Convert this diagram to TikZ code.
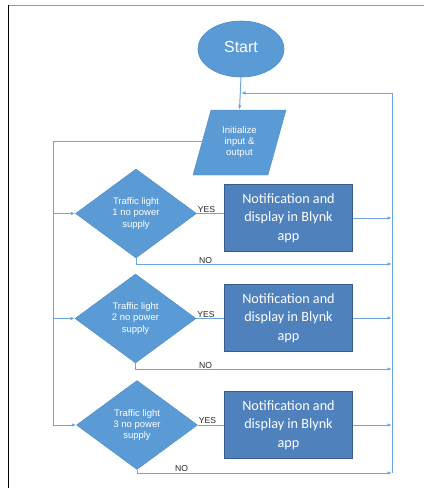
\documentclass[tikz,border=0pt]{standalone}
\usepackage{fontspec}
\setmainfont{Liberation Sans}
\newfontfamily\boxfont{Carlito}
\usetikzlibrary{shapes.geometric,arrows.meta}

\definecolor{shapeblue}{HTML}{5B9BD5}
\definecolor{shapeedge}{HTML}{4A8AC8}
\definecolor{boxblue}{HTML}{4F81BD}
\definecolor{boxedge}{HTML}{385D8A}
\definecolor{linkblue}{HTML}{6FA6DA}

\tikzset{
  startnode/.style={ellipse, fill=shapeblue, draw=shapeedge, line width=0.6pt,
    minimum width=86pt, minimum height=56pt, inner sep=0pt, text=white,
    font=\fontsize{16}{18}\selectfont},
  ioshape/.style={fill=shapeblue, draw=shapeedge, line width=0.4pt},
  iotext/.style={rectangle, minimum width=93pt, minimum height=65pt,
    inner sep=0pt, text=white, align=center,
    font=\fontsize{9.6}{11}\selectfont},
  decision/.style={diamond, fill=shapeblue, draw=shapeedge, line width=0.4pt,
    shape aspect=1.35, minimum width=121pt, minimum height=89pt, inner sep=0pt,
    text=white, align=center, font=\fontsize{9.5}{11.3}\selectfont},
  actionbox/.style={rectangle, fill=boxblue, draw=boxedge, line width=1.3pt,
    minimum width=128pt, minimum height=67pt, inner sep=0pt, text=white,
    align=center, font=\boxfont\fontsize{14.2}{18.5}\selectfont},
  link/.style={draw=linkblue, line width=1pt},
  linkarrow/.style={link, -{Latex[length=4.5pt,width=3.5pt]}},
  answer/.style={inner sep=0pt, text=black!85, font=\fontsize{8.6}{10}\selectfont}
}

\begin{document}
\begin{tikzpicture}[x=1pt, y=-1pt]
  \useasboundingbox (0,0) rectangle (424,488);

  % page frame
  \draw[black!40, line width=0.9pt] (8,5) -- (424,5);
  \draw[black, line width=1pt] (8,5) -- (8,488);

  % start
  \node[startnode] (start) at (241,49) {\raisebox{4pt}{Start}};

  % input/output parallelogram, text node on top
  \coordinate (ioc) at (239.5,142.5);
  \draw[ioshape] ([shift={(-28.5,-32.5)}]ioc) -- ([shift={(46.5,-32.5)}]ioc)
    -- ([shift={(28.5,32.5)}]ioc) -- ([shift={(-46.5,32.5)}]ioc) -- cycle;
  \node[iotext] (init) at (ioc) {Initialize\\input \&\\output};

  % decisions and actions
  \node[decision] (d1) at (136,213.5) {Traffic light\\1 no power\\supply};
  \node[decision] (d2) at (135.5,318.5) {Traffic light\\2 no power\\supply};
  \node[decision] (d3) at (137,425) {Traffic light\\3 no power\\supply};

  \node[actionbox] (b1) at (288.5,218) {Notification and\\display in Blynk\\app};
  \node[actionbox] (b2) at (288.5,318) {Notification and\\display in Blynk\\app};
  \node[actionbox] (b3) at (288.5,425) {Notification and\\display in Blynk\\app};

  % route coordinates
  \coordinate (rtop) at (392,93);
  \coordinate (rbot) at (392,473);
  \coordinate (ltop) at (53,141);
  \coordinate (lbot) at (53,425);
  \coordinate (iol) at (203,141);
  \coordinate (merge) at (start.south |- rtop);

  % main flow
  \draw[linkarrow] (start.south) -- (init.north);
  \draw[link] (rbot) -- (rtop);
  \draw[linkarrow] (rtop) -- (merge);
  \draw[link] (iol) -- (ltop) -- (lbot);

  % into the decisions
  \draw[linkarrow] (ltop |- d1.west) -- (d1.west);
  \draw[linkarrow] (ltop |- d2.west) -- (d2.west);
  \draw[linkarrow] (lbot) -- (d3.west);

  % YES branches
  \foreach \d/\b in {d1/b1, d2/b2, d3/b3} {
    \draw[link] (\d.east) -- (\d.east -| \b.west);
    \draw[linkarrow] (\b.east) -- (\b.east -| rtop);
    \node[answer, anchor=south west] at ([xshift=1pt,yshift=1pt]\d.east) {YES};
  }

  % NO branches
  \draw[linkarrow] (d1.south) |- (rtop |- 0,264);
  \draw[linkarrow] (d2.south) |- (rtop |- 0,369);
  \draw[linkarrow] (d3.south) |- (rbot);
  \node[answer, anchor=south west] at (199,264) {NO};
  \node[answer, anchor=south west] at (199,368.5) {NO};
  \node[answer, anchor=south west] at (175,471.5) {NO};
\end{tikzpicture}
\end{document}
